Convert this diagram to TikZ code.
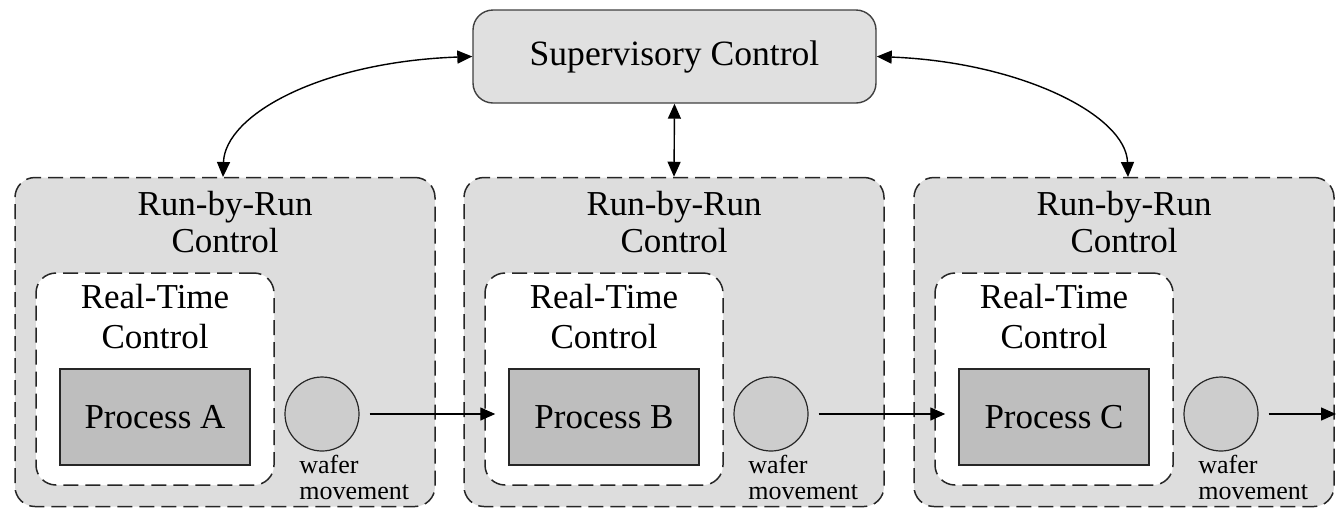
\documentclass[tikz,border=0pt]{standalone}
\usepackage{fontspec}
\setmainfont{Liberation Serif}
\usetikzlibrary{arrows.meta}
\definecolor{outergray}{RGB}{221,221,221}
\definecolor{supgray}{RGB}{224,224,224}
\definecolor{procgray}{RGB}{190,190,190}
\definecolor{wafergray}{RGB}{205,205,205}
\begin{document}
\begin{tikzpicture}[x=0.5pt,y=-0.5pt,
  >={Triangle[length=7.5pt,width=6.5pt]},
  conn/.style={line width=0.7pt,black},
  supbox/.style={draw=black!75,line width=0.7pt,fill=supgray,rounded corners=10pt,
     minimum width=201.5pt,minimum height=46.5pt,inner sep=0pt,
     font=\fontsize{17.8}{19}\selectfont},
  rrbox/.style={draw=black!85,line width=0.75pt,dash pattern=on 7.5pt off 3.5pt,
     fill=outergray,rounded corners=10pt,minimum width=210pt,minimum height=164.5pt,inner sep=0pt},
  rtbox/.style={draw=black!85,line width=0.75pt,dash pattern=on 7.5pt off 3.5pt,
     fill=white,rounded corners=10pt,minimum width=119pt,minimum height=106pt,inner sep=0pt},
  procbox/.style={draw=black!85,line width=0.75pt,fill=procgray,
     minimum width=95pt,minimum height=48pt,inner sep=0pt,
     font=\fontsize{17.5}{19}\selectfont},
  wafer/.style={circle,draw=black!85,line width=0.6pt,fill=wafergray,minimum size=37pt,inner sep=0pt},
  rrlabel/.style={align=center,inner sep=0pt,anchor=north,font=\fontsize{17.5}{18.5}\selectfont},
  rtlabel/.style={align=center,inner sep=0pt,anchor=north,font=\fontsize{17.5}{20}\selectfont},
  wlabel/.style={align=left,inner sep=0pt,anchor=north west,font=\fontsize{13}{13}\selectfont}
]
\useasboundingbox (0,0) rectangle (1336,510);
% supervisory
\node[supbox] (sup) at (674.5,56.5) {Supervisory Control};
% units
\foreach \i/\cx/\L in {1/225/A,2/674/B,3/1124/C}{
  \node[rrbox] (rr\i) at (\cx,342) {};
  \node[rrlabel] (rrl\i) at (\cx,191) {Run-by-Run\\Control};
  \node[rtbox] (rt\i) at (\cx-70,379) {};
  \node[rtlabel] (rtl\i) at (\cx-70,284) {Real-Time\\Control};
  \node[procbox] (p\i) at (\cx-70,417) {Process \L};
  \node[wafer] (w\i) at (\cx+97,414) {};
  \node[wlabel] (wl\i) at (\cx+74,455) {wafer\\movement};
}
% connectors
\coordinate (a1) at (223,177);
\coordinate (a3) at (1128,177);
\coordinate (out) at (1336,414);
\draw[conn,<->] (a1) .. controls (225,115) and (320,62) .. (sup.west);
\draw[conn,<->] (sup.east) .. controls (1020,62) and (1126,115) .. (a3);
\draw[conn,<->] (sup.south) -- (rr2.north);
\draw[conn,->,shorten <=5pt,shorten >=6.5pt] (w1.east) -- (w1.east -| p2.west);
\draw[conn,->,shorten <=5pt,shorten >=6.5pt] (w2.east) -- (w2.east -| p3.west);
\draw[conn,->,shorten <=5pt] (w3.east) -- (out);
\end{tikzpicture}
\end{document}
